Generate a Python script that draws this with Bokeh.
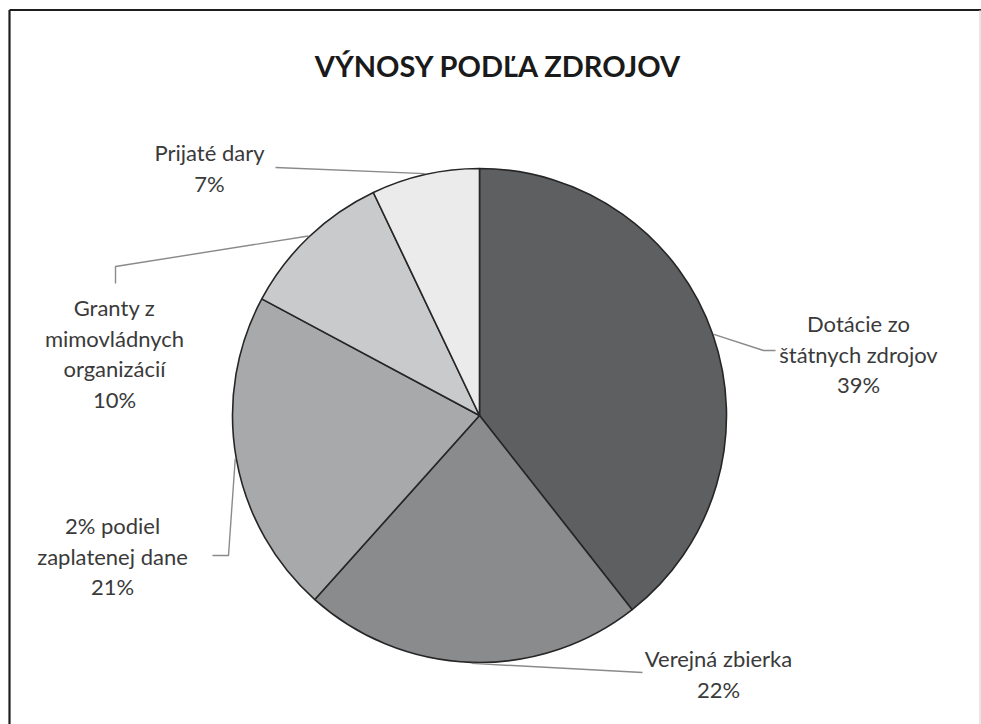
import math
from bokeh.plotting import figure
from bokeh.models import Range1d, ColumnDataSource
from bokeh.core.properties import value
from bokeh.embed import file_html
from bokeh.resources import INLINE

# ---------------- data ----------------
title_text = "VÝNOSY PODĽA ZDROJOV"
categories = ["Dotácie zo štátnych zdrojov", "Verejná zbierka",
              "2% podiel zaplatenej dane", "Granty z mimovládnych organizácií",
              "Prijaté dary"]
label_lines = [["Dotácie zo", "štátnych zdrojov"],
               ["Verejná zbierka"],
               ["2% podiel", "zaplatenej dane"],
               ["Granty z", "mimovládnych", "organizácií"],
               ["Prijaté dary"]]
shares = [39, 22, 21, 10, 7]
colors = ["#5e5f61", "#8a8b8d", "#a8a9ab", "#c9cacc", "#ebebeb"]

# ---------------- layout (screen pixels) ----------------
W, H = 981, 724
def fx(sx):
    return sx
def fy(sy):
    return H - sy

CX, CY, R = fx(479), fy(415), 247

# leader path after the edge point, text centre x, first text line y (screen px)
leader_paths = [[(763, 350), (775, 350)],
                [(642, 672)],
                [(228, 555), (212, 555)],
                [(115, 266), (115, 283)],
                [(275, 167)]]
text_pos = [(858, 323), (718, 658), (112, 525), (114, 307), (209, 152)]
LINE_H = 30.5

p = figure(width=W, height=H, output_backend="svg", toolbar_location=None,
           x_range=Range1d(0, W), y_range=Range1d(0, H),
           min_border=0, border_fill_color="white", outline_line_color=None)
p.axis.visible = False
p.grid.visible = False

# frame border
p.segment(x0=[9, 9], y0=[0, fy(9.5)], x1=[9, W], y1=[fy(9.5), fy(9.5)],
          line_color="#1e1e1e", line_width=2.2)
p.segment(x0=[979.5], y0=[0], x1=[979.5], y1=[fy(9.5)],
          line_color="#cfcfcf", line_width=1)

total = float(sum(shares))
starts, ends, mids = [], [], []
cum = 0.0
for s in shares:
    a0 = math.pi / 2 - 2 * math.pi * cum / total
    cum += s
    a1 = math.pi / 2 - 2 * math.pi * cum / total
    starts.append(a0)
    ends.append(a1)
    mids.append((a0 + a1) / 2)

src = ColumnDataSource(dict(start=starts, end=ends, color=colors, name=categories))
p.wedge(x=CX, y=CY, radius=R, start_angle="start", end_angle="end",
        direction="clock", fill_color="color", line_color="#262626",
        line_width=1.6, source=src)

# leader lines
for i, m in enumerate(mids):
    ex = CX + (R + 1) * math.cos(m)
    ey = CY + (R + 1) * math.sin(m)
    xs = [ex] + [fx(x) for x, _ in leader_paths[i]]
    ys = [ey] + [fy(y) for _, y in leader_paths[i]]
    p.line(xs, ys, line_color="#8a8a8a", line_width=1.4)

# labels
tx, ty, tt = [], [], []
for i, lines in enumerate(label_lines):
    cx, y0 = text_pos[i]
    all_lines = lines + ["%d%%" % shares[i]]
    for k, t in enumerate(all_lines):
        tx.append(fx(cx))
        ty.append(fy(y0 + k * LINE_H))
        tt.append(t)
p.text(x=tx, y=ty, text=tt, text_font=value("Lato"), text_font_size="22px",
       text_color="#3a3a3a", text_align="center", text_baseline="middle")

# title
p.text(x=[fx(498)], y=[fy(65)], text=[title_text], text_font=value("Lato"),
       text_font_size="29px", text_font_style="bold", text_color="#1a1a1a",
       text_align="center", text_baseline="middle")

open("out.html", "w").write(file_html(p, INLINE))
